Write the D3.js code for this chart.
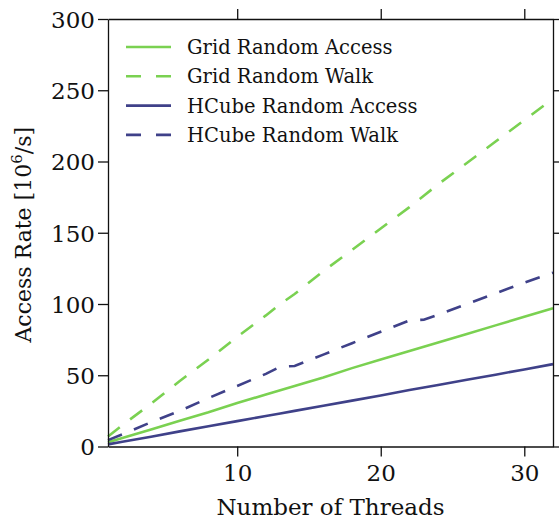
<!DOCTYPE html>
<html>
<head>
<meta charset="utf-8">
<script src="https://cdn.jsdelivr.net/npm/d3@7"></script>
<style>
  body { margin: 0; background: #fff; }
  svg text { font-family: "DejaVu Serif", serif; fill: #111; }
  .axis path, .axis line { stroke: #111; stroke-width: 1.3; }
</style>
</head>
<body>
<svg id="plot" width="559" height="522"></svg>
<script>
// thread counts and measured access rates (10^6 / s)
const threads = [1, 2, 4, 6, 8, 10, 12, 13, 14, 16, 18, 20, 22, 23, 24, 26, 28, 30, 32];
const gridAccess = [3, 6, 12, 18, 24, 30.5, 36.5, 39.5, 42.5, 48.5, 55, 61, 67, 70, 73, 79, 85, 91, 97];
const gridWalk = [7, 15, 30, 46, 61, 77, 92, 100, 107, 123, 138, 153, 168, 176, 184, 199, 214, 229, 244];
const hcubeAccess = [1.5, 3.3, 6.9, 10.6, 14.2, 17.8, 21.4, 23.2, 25, 28.6, 32.2, 35.8, 39.6, 41.4, 43.2, 46.8, 50.4, 54.1, 57.8];
const hcubeWalk = [4.5, 8.5, 17, 25, 34, 42.5, 51, 56, 56.5, 64.5, 72.5, 80.5, 88.5, 89, 92.5, 100, 107.5, 115, 122];

const xTicks = [10, 20, 30];
const yTicks = [0, 50, 100, 150, 200, 250, 300];

const series = [
    {name: "Grid Random Access", values: gridAccess, color: "#7ad151", dashed: false},
    {name: "Grid Random Walk", values: gridWalk, color: "#7ad151", dashed: true},
    {name: "HCube Random Access", values: hcubeAccess, color: "#3f4189", dashed: false},
    {name: "HCube Random Walk", values: hcubeWalk, color: "#3f4189", dashed: true}
];

const svg = d3.select("#plot");
const margin = {top: 19, right: 6, bottom: 75.5, left: 108};
const width = +svg.attr("width");
const height = +svg.attr("height");
const innerWidth = width - margin.left - margin.right;
const innerHeight = height - margin.top - margin.bottom;

const g = svg.append("g")
    .attr("transform", `translate(${margin.left}, ${margin.top})`);

const xScale = d3.scaleLinear().domain([1, 32]).range([0, innerWidth]);
const yScale = d3.scaleLinear().domain([0, 300]).range([innerHeight, 0]);

// lines first, frame on top
const line = d3.line()
    .x((d, i) => xScale(threads[i]))
    .y(d => yScale(d));

g.append("g").selectAll("path")
    .data(series)
    .join("path")
    .attr("fill", "none")
    .attr("stroke", d => d.color)
    .attr("stroke-width", 2.6)
    .attr("stroke-dasharray", d => d.dashed ? "15,13" : null)
    .attr("d", d => line(d.values));

// axes on all four sides, ticks pointing out
const tickLen = 10;
g.append("g")
    .attr("class", "axis")
    .attr("transform", `translate(0, ${innerHeight})`)
    .call(d3.axisBottom(xScale).tickValues(xTicks).tickSize(tickLen).tickPadding(3).tickSizeOuter(0))
    .call(a => a.selectAll("text").attr("font-size", 23).attr("dy", "0.95em"));

// mirrored ticks on top and right, no labels
g.append("g")
    .attr("class", "axis")
    .call(d3.axisTop(xScale).tickValues(xTicks).tickSize(tickLen).tickSizeOuter(0))
    .call(a => a.selectAll("text").remove());

g.append("g")
    .attr("class", "axis")
    .call(d3.axisLeft(yScale).tickValues(yTicks).tickSize(tickLen).tickPadding(3).tickSizeOuter(0))
    .call(a => a.selectAll("text").attr("font-size", 23).attr("dy", "0.36em"));

g.append("g")
    .attr("class", "axis")
    .attr("transform", `translate(${innerWidth}, 0)`)
    .call(d3.axisRight(yScale).tickValues(yTicks).tickSize(tickLen).tickSizeOuter(0))
    .call(a => a.selectAll("text").remove());

g.selectAll(".axis text").attr("fill", "#111");

// axis labels
svg.append("text")
    .attr("x", margin.left + innerWidth / 2)
    .attr("y", 515)
    .attr("text-anchor", "middle")
    .attr("font-size", 23)
    .text("Number of Threads");

const yLabel = svg.append("text")
    .attr("transform", `translate(31, ${margin.top + innerHeight / 2 + 2}) rotate(-90)`)
    .attr("text-anchor", "middle")
    .attr("font-size", 22);
yLabel.append("tspan").text("Access Rate [10");
yLabel.append("tspan").attr("dy", -9).attr("font-size", 15).text("6");
yLabel.append("tspan").attr("dy", 9).text("/s]");

// legend
const legend = g.append("g").attr("transform", "translate(18, 28)");
const rowH = 29.3;
const rows = legend.selectAll("g")
    .data(series)
    .join("g")
    .attr("transform", (d, i) => `translate(0, ${i * rowH})`);
rows.append("line")
    .attr("x1", 0).attr("x2", 45)
    .attr("stroke", d => d.color)
    .attr("stroke-width", 2.6)
    .attr("stroke-dasharray", d => d.dashed ? "15,15" : null);
rows.append("text")
    .attr("x", 61)
    .attr("y", 7)
    .attr("font-size", 19.5)
    .text(d => d.name);
</script>
</body>
</html>
